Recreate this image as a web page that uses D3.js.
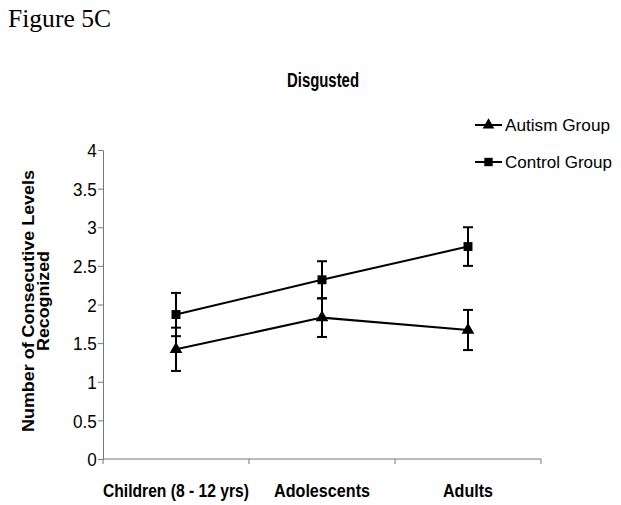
<!DOCTYPE html>
<html><head><meta charset="utf-8">
<script src="https://cdn.jsdelivr.net/npm/d3@7"></script>
<style>body{margin:0;background:#fff}</style>
</head><body>
<script>
const categories = ["Children (8 - 12 yrs)", "Adolescents", "Adults"];
const autismMeans = [1.42, 1.83, 1.67];
const autismErr = [0.28, 0.25, 0.26];
const controlMeans = [1.87, 2.32, 2.75];
const controlErr = [0.28, 0.24, 0.25];
const yTicks = [0, 0.5, 1, 1.5, 2, 2.5, 3, 3.5, 4];
const seriesNames = ["Autism Group", "Control Group"];

(function () {
const W = 621, H = 505;
const svg = d3.select("body").append("svg").attr("width", W).attr("height", H);
const mL = 103, mR = 541, mT = 150, mB = 459;
const SANS = "Liberation Sans, Arial, sans-serif";

const x = d3.scaleBand().domain(categories).range([mL, mR]);
const y = d3.scaleLinear().domain([0, 4]).range([mB, mT]);

function txt(parent, px, py, s, size, weight, width, anchor) {
  return parent.append("text").attr("x", px).attr("y", py).text(s)
    .attr("text-anchor", anchor || "start")
    .attr("textLength", width).attr("lengthAdjust", "spacingAndGlyphs")
    .style("font-family", SANS).style("font-size", size + "px").style("font-weight", weight || "normal");
}

txt(svg, 8, 27, "Figure 5C", 25, "normal", 103).style("font-family", "Liberation Serif, Times New Roman, serif");
txt(svg, 323, 87, "Disgusted", 20, "bold", 72, "middle");

// y axis
const ya = svg.append("g").attr("transform", `translate(${mL},0)`)
  .call(d3.axisLeft(y).tickValues(yTicks).tickSize(5).tickSizeOuter(0).tickFormat(d => d));
ya.selectAll("text").style("font-family", SANS).style("font-size", "19px")
  .attr("x", -7).attr("dy", "0.35em").attr("fill", "#000").attr("transform", "scale(0.9,1)");
ya.selectAll("line, path").attr("stroke", "#777");

// x axis
const xa = svg.append("g").attr("transform", `translate(0,${mB})`);
xa.append("line").attr("x1", mL).attr("x2", mR).attr("y1", 0).attr("y2", 0).attr("stroke", "#777");
const bounds = categories.map(c => x(c)).concat([mR]);
xa.selectAll("line.t").data(bounds).enter().append("line").attr("class", "t")
  .attr("x1", d => d).attr("x2", d => d).attr("y1", 0).attr("y2", 5).attr("stroke", "#777");
const xw = [146, 96, 50];
categories.forEach((c, i) => txt(xa, x(c) + x.bandwidth() / 2, 38, c, 18, "bold", xw[i], "middle"));

// y label
const yl = svg.append("g").attr("transform", `translate(0,301) rotate(-90)`);
txt(yl, 0, 34, "Number of Consecutive Levels", 16, "bold", 262, "middle");
txt(yl, 0, 49, "Recognized", 16, "bold", 100, "middle");

const cx = c => x(c) + x.bandwidth() / 2;
const line = d3.line().x(d => cx(d.c)).y(d => y(d.v));

function drawSeries(means, errs, shape) {
  const data = categories.map((c, i) => ({ c, v: means[i], e: errs[i] }));
  svg.append("path").datum(data).attr("d", line).attr("fill", "none").attr("stroke", "#000").attr("stroke-width", 2);
  const g = svg.append("g");
  data.forEach(d => {
    const X = cx(d.c);
    g.append("line").attr("x1", X).attr("x2", X).attr("y1", y(d.v - d.e)).attr("y2", y(d.v + d.e)).attr("stroke", "#000").attr("stroke-width", 2);
    [d.v - d.e, d.v + d.e].forEach(v => g.append("line").attr("x1", X - 5).attr("x2", X + 5).attr("y1", y(v)).attr("y2", y(v)).attr("stroke", "#000").attr("stroke-width", 2));
  });
  g.selectAll("path.m").data(data).enter().append("path").attr("class", "m")
    .attr("transform", d => `translate(${cx(d.c)},${y(d.v)})`)
    .attr("d", d3.symbol().type(shape).size(shape === d3.symbolSquare ? 80 : 70)).attr("fill", "#000");
}
drawSeries(autismMeans, autismErr, d3.symbolTriangle);
drawSeries(controlMeans, controlErr, d3.symbolSquare);

// legend
const legY = [125, 162];
const legW = [105, 107];
const shapes = [d3.symbolTriangle, d3.symbolSquare];
seriesNames.forEach((n, i) => {
  const g = svg.append("g").attr("transform", `translate(475,${legY[i]})`);
  g.append("line").attr("x1", 0).attr("x2", 27).attr("stroke", "#000").attr("stroke-width", 2);
  g.append("path").attr("transform", "translate(13.5,0)").attr("d", d3.symbol().type(shapes[i]).size(i ? 70 : 60)).attr("fill", "#000");
  txt(g, 30, 6, n, 17, "normal", legW[i]);
});
})();
</script>
</body></html>
